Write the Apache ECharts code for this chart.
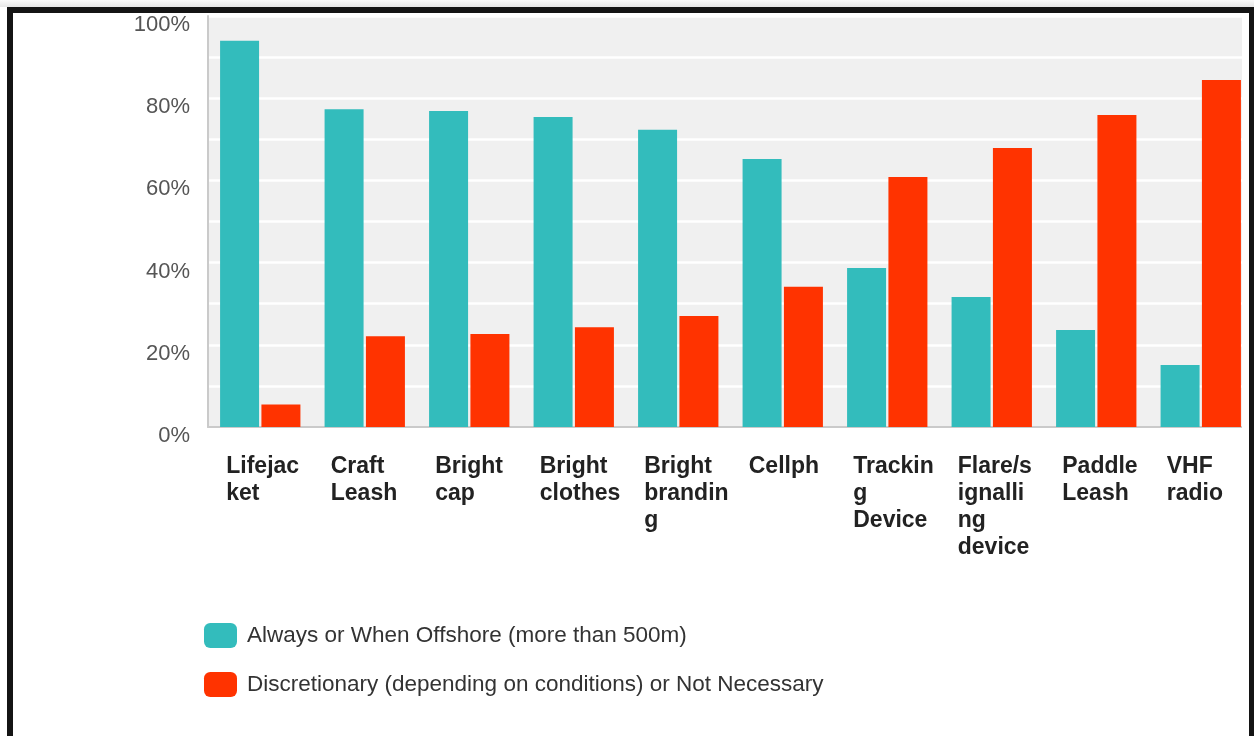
<!DOCTYPE html>
<html>
<head>
<meta charset="utf-8">
<script src="https://cdn.jsdelivr.net/npm/echarts@6/dist/echarts.min.js"></script>
<style>
  html, body { margin: 0; padding: 0; background: #fff; }
  #chart { position: absolute; left: 0; top: 0; width: 1254px; height: 736px; }
  #strip { position: absolute; left: 1242px; top: 12px; width: 8px; height: 730px; background: #fff; }
  #frame { position: absolute; left: 7px; top: 7px; width: 1236px; height: 760px; border: 6px solid #141414; box-sizing: content-box; }
  #shadow { position: absolute; left: 0; top: 0; width: 1254px; height: 7px; background: linear-gradient(#fafafa, #e6e6e6); }
</style>
</head>
<body>
<div id="chart"></div>
<div id="strip"></div>
<div id="shadow"></div>
<div id="frame"></div>
<script>
const categories = ["Lifejacket", "Craft Leash", "Bright cap", "Bright clothes", "Bright branding", "Cellph", "Tracking Device", "Flare/signalling device", "Paddle Leash", "VHF radio"];
const tickLabels = ["Lifejac\nket", "Craft\nLeash", "Bright\ncap", "Bright\nclothes", "Bright\nbrandin\ng", "Cellph", "Trackin\ng\nDevice", "Flare/s\nignalli\nng\ndevice", "Paddle\nLeash", "VHF\nradio"];
const seriesNames = ["Always or When Offshore (more than 500m)", "Discretionary (depending on conditions) or Not Necessary"];
const alwaysValues = [94.0, 77.3, 76.9, 75.4, 72.3, 65.2, 38.7, 31.6, 23.6, 15.1];
const discretionaryValues = [5.5, 22.1, 22.6, 24.3, 27.0, 34.1, 60.8, 67.9, 75.9, 84.4];
const yTicks = [0, 20, 40, 60, 80, 100];

const chart = echarts.init(document.getElementById('chart'), null, { renderer: 'canvas' });
const font = '"Liberation Sans", Arial, sans-serif';

chart.setOption({
  animation: false,
  textStyle: { fontFamily: font },
  legend: {
    orient: 'vertical',
    left: 204,
    top: 623,
    padding: 0,
    itemWidth: 33,
    itemHeight: 25,
    itemGap: 24,
    icon: 'roundRect',
    textStyle: { fontSize: 22.5, color: '#333', fontFamily: font, padding: [0, 0, 0, 5] },
    data: seriesNames
  },
  grid: [
    { left: 208, right: 1, top: 16, bottom: 309, show: true, backgroundColor: '#f0f0f0', borderWidth: 0 },
    { left: 174, right: 35, top: 16, bottom: 309, show: false }
  ],
  xAxis: [
    {
      type: 'category', gridIndex: 0, data: categories,
      axisLine: { show: true, lineStyle: { color: '#cacaca', width: 2 } },
      axisTick: { show: false },
      axisLabel: { show: false },
      splitLine: { show: false }
    },
    {
      type: 'category', gridIndex: 1, data: tickLabels,
      axisLine: { show: false }, axisTick: { show: false },
      axisLabel: {
        show: true, interval: 0, align: 'left', margin: 26,
        fontSize: 23, fontWeight: 'bold', color: '#222', lineHeight: 27, fontFamily: font
      }
    }
  ],
  yAxis: [
    {
      type: 'value', gridIndex: 0, min: 0, max: 100, interval: 10,
      axisLine: { show: true, lineStyle: { color: '#cacaca', width: 2 } },
      axisTick: { show: false },
      splitLine: { show: true, lineStyle: { color: '#ffffff', width: 2.5 } },
      axisLabel: {
        margin: 18, fontSize: 22, color: '#555', fontFamily: font,
        verticalAlign: 'top', lineHeight: 18,
        formatter: function (v) { return yTicks.indexOf(v) >= 0 ? v + '%' : ''; }
      }
    },
    { type: 'value', gridIndex: 1, min: 0, max: 100, show: false }
  ],
  series: [
    {
      name: seriesNames[0], type: 'bar', xAxisIndex: 0, yAxisIndex: 0,
      data: alwaysValues, barWidth: 39, barGap: '6%',
      itemStyle: { color: '#33bcbc' }
    },
    {
      name: seriesNames[1], type: 'bar', xAxisIndex: 0, yAxisIndex: 0,
      data: discretionaryValues, barWidth: 39, barGap: '6%',
      itemStyle: { color: '#ff3300' }
    }
  ]
});
</script>
</body>
</html>
